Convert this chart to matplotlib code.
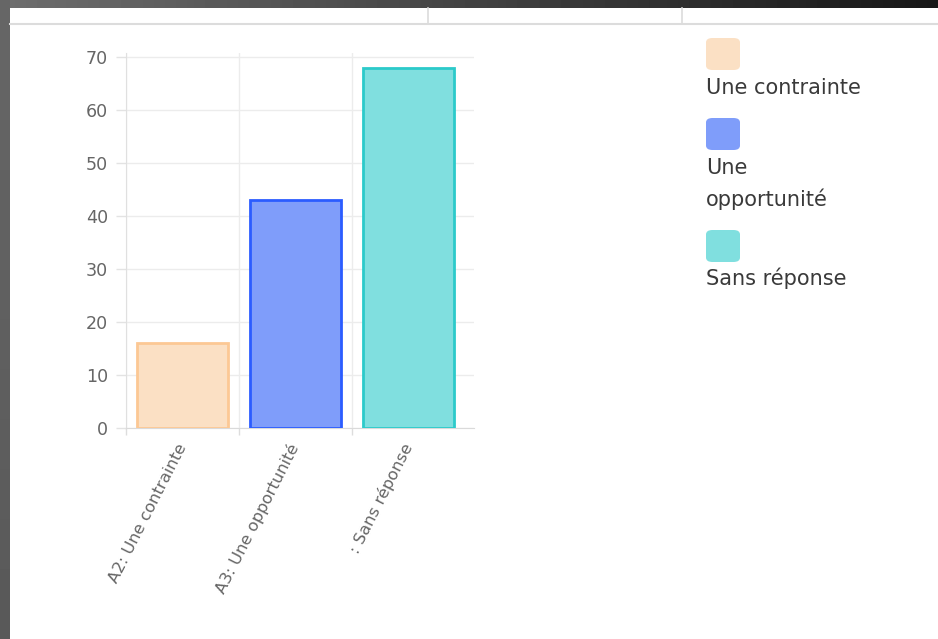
import numpy as np
from matplotlib import pyplot as plt
from matplotlib.patches import FancyBboxPatch

categories = ['A2: Une contrainte', 'A3: Une opportunité', ': Sans réponse']
legend_labels = ['Une contrainte', 'Une\nopportunité', 'Sans réponse']
counts = [16, 43, 68]
y_ticks = [0, 10, 20, 30, 40, 50, 60, 70]

fill_colors = ['#fbe0c4', '#7f9dfa', '#80dfdf']
edge_colors = ['#fcc894', '#2b5cff', '#2ccaca']

W, H = 938, 639
fig = plt.figure(figsize=(W / 100, H / 100), dpi=100, facecolor='white')

# page frame: dark window edge and the table strip above the chart
bg = fig.add_axes([0, 0, 1, 1], zorder=-5)
bg.axis('off')
grad = np.linspace(0.43, 0.09, 256)[None, :]
bg.imshow(grad, cmap='gray', vmin=0, vmax=1, aspect='auto',
          extent=[0, W, 8, 0])
side = np.linspace(0.40, 0.35, 64)[:, None]
bg.imshow(side, cmap='gray', vmin=0, vmax=1, aspect='auto',
          extent=[0, 10, H, 0])
bg.plot([10, W], [24, 24], color='#dcdcdc', lw=1.5)
for xv in (428, 682):
    bg.plot([xv, xv], [8, 24], color='#dcdcdc', lw=1.2)
bg.set_xlim(0, W)
bg.set_ylim(H, 0)


def fx(px):
    return px / W


def fy(py):
    return 1 - py / H


# bar chart
ax = fig.add_axes([fx(126), fy(428), 348 / W, 375 / H])
x = np.arange(len(categories))
ax.bar(x, counts, width=0.81, color=fill_colors, edgecolor=edge_colors,
       linewidth=2, zorder=3)
ax.set_xlim(-0.5, -0.5 + 348 / 113)
ax.set_ylim(0, 70.75)
ax.set_yticks(y_ticks)
ax.set_xticks(x)
ax.set_xticks([-0.5, 0.5, 1.5], minor=True)
ax.set_xticklabels(categories, rotation=63, ha='right', va='center',
                   rotation_mode='anchor', fontsize=11.8, color='#666666',
                   family='DejaVu Sans')
ax.tick_params(axis='x', which='major', length=0, pad=12)
ax.tick_params(axis='x', which='minor', length=5, color='#dddddd', width=1)
ax.tick_params(axis='y', length=7, color='#e3e3e3', width=1, pad=6,
               labelsize=12.6, labelcolor='#666666')
ax.grid(axis='y', color='#ececec', lw=1, zorder=0)
ax.grid(axis='x', which='minor', color='#ececec', lw=1, zorder=0)
for s in ('top', 'right'):
    ax.spines[s].set_visible(False)
ax.spines['left'].set_color('#e0e0e0')
ax.spines['bottom'].set_color('#dadada')

# legend: swatch above each label
swatch_tops = [38, 118, 230]
label_baselines = [94, 206, 285]
for top, base, lab, col in zip(swatch_tops, label_baselines, legend_labels, fill_colors):
    fig.patches.append(FancyBboxPatch(
        (fx(706), fy(top + 32)), 34 / W, 32 / H,
        boxstyle='round,pad=0,rounding_size=0.007',
        transform=fig.transFigure, facecolor=col, edgecolor='none'))
    fig.text(fx(706), fy(base), lab, fontsize=15, color='#3a3a3a',
             family='DejaVu Sans', ha='left', va='baseline',
             linespacing=1.6)

fig.savefig('out.png', dpi=100, facecolor='white')
